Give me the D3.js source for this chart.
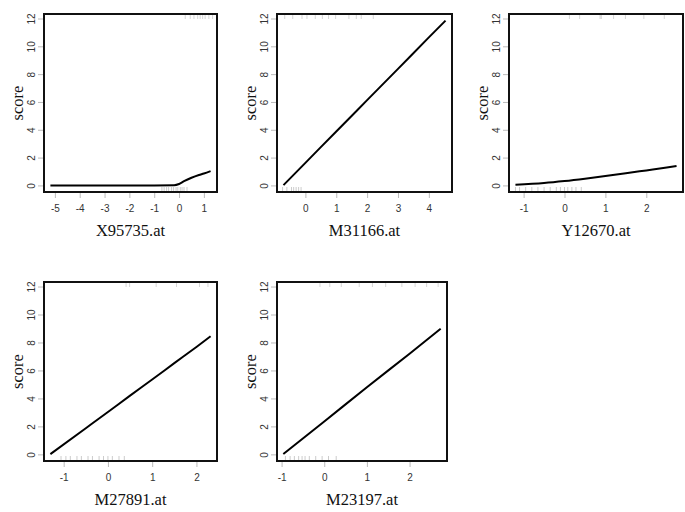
<!DOCTYPE html>
<html>
<head>
<meta charset="utf-8">
<script src="https://cdn.jsdelivr.net/npm/d3@7"></script>
<style>
  body { margin: 0; background: #fff; }
  .tick text { font-family: "Liberation Sans", Arial, sans-serif; font-size: 10px; fill: #333; }
  .axis-title { font-family: "Liberation Serif", "Times New Roman", serif; font-size: 16.5px; fill: #111; }
</style>
</head>
<body>
<div id="chart"></div>
<script>
/* DATA */
const panelNames = ["X95735.at", "M31166.at", "Y12670.at", "M27891.at", "M23197.at"];

// smooth term curves (x, score)
const curveX1 = [-5.18, -4, -3, -2, -1, -0.2, 0, 0.2, 0.5, 0.8, 1.0, 1.27];
const curveY1 = [0, 0, 0, 0, 0, 0.01, 0.1, 0.3, 0.55, 0.75, 0.86, 1.03];
const curveX2 = [-0.71, 0, 1, 2, 3, 4, 4.54];
const curveY2 = [0.02, 1.62, 3.88, 6.13, 8.38, 10.64, 11.85];
const curveX3 = [-1.2, -0.5, 0, 0.5, 1, 1.5, 2, 2.5, 2.74];
const curveY3 = [0.05, 0.17, 0.31, 0.48, 0.67, 0.87, 1.08, 1.29, 1.4];
const curveX4 = [-1.3, -0.5, 0, 0.5, 1, 1.5, 2, 2.32];
const curveY4 = [0.02, 1.87, 3.03, 4.2, 5.35, 6.52, 7.68, 8.44];
const curveX5 = [-0.96, 0, 1, 2, 2.73];
const curveY5 = [0.02, 2.35, 4.8, 7.2, 8.98];

// rug marks
const rugBottom1 = [-0.69, -0.6, -0.5, -0.42, -0.3, -0.22, -0.12, -0.05, 0.05, 0.12, 0.2, 0.32];
const rugTop1 = [0.25, 0.45, 0.6, 0.75, 0.85, 0.95, 1.05, 1.2, 1.35];
const rugBottom2 = [-0.74, -0.6, -0.45, -0.38, -0.3, -0.22, -0.14];
const rugTop2 = [-0.67, -0.41, -0.11, 0.05, 0.32, 0.55, 0.75, 0.98, 1.41, 1.65, 1.81, 2.2];
const rugBottom3 = [-1.2, -1.1, -0.95, -0.8, -0.65, -0.5, -0.35, -0.2, -0.1, 0, 0.08, 0.18, 0.28, 0.41];
const rugTop3 = [0.12, 0.37, 0.87, 0.9, 1.2, 1.49, 1.94, 2.44];
const rugBottom4 = [-1.06, -0.95, -0.85, -0.7, -0.6, -0.45, -0.35, -0.2, -0.1, 0, 0.1, 0.25, 0.37];
const rugTop4 = [0.41, 0.49, 1.09, 1.55, 2.07, 2.26];
const rugBottom5 = [-0.91, -0.8, -0.7, -0.6, -0.52, -0.45, -0.35, -0.2, -0.05, 0.1, 0.28];
const rugTop5 = [-0.1, 0.13, 0.4, 0.82, 1.13, 1.44, 1.82, 2.13, 2.4, 2.67];

// tick labels
const xTicks1 = [-5, -4, -3, -2, -1, 0, 1];
const xTicks2 = [0, 1, 2, 3, 4];
const xTicks3 = [-1, 0, 1, 2];
const xTicks4 = [-1, 0, 1, 2];
const xTicks5 = [-1, 0, 1, 2];
const yTicks = [0, 2, 4, 6, 8, 10, 12];

/* LAYOUT */
const width = 685, height = 512;
const boxes = [
  { left: 44, right: 217, top: 14, bottom: 192 },
  { left: 277, right: 452, top: 14, bottom: 192 },
  { left: 509, right: 683, top: 14, bottom: 192 },
  { left: 44, right: 217, top: 282, bottom: 461 },
  { left: 277, right: 447, top: 282, bottom: 461 }
];

const panels = [
  { xs: curveX1, ys: curveY1, rb: rugBottom1, rt: rugTop1, ticks: xTicks1 },
  { xs: curveX2, ys: curveY2, rb: rugBottom2, rt: rugTop2, ticks: xTicks2 },
  { xs: curveX3, ys: curveY3, rb: rugBottom3, rt: rugTop3, ticks: xTicks3 },
  { xs: curveX4, ys: curveY4, rb: rugBottom4, rt: rugTop4, ticks: xTicks4 },
  { xs: curveX5, ys: curveY5, rb: rugBottom5, rt: rugTop5, ticks: xTicks5 }
];

// R-style 4% range extension
function extend(ext) {
  const pad = (ext[1] - ext[0]) * 0.04;
  return [ext[0] - pad, ext[1] + pad];
}

// shared y limits over all curves
const yDomain = extend([
  d3.min(panels, p => d3.min(p.ys)),
  d3.max(panels, p => d3.max(p.ys))
]);

const svg = d3.select("#chart")
  .append("svg")
  .attr("width", width)
  .attr("height", height);

panels.forEach((p, i) => {
  const b = boxes[i];
  const g = svg.append("g");

  const xScale = d3.scaleLinear()
    .domain(extend(d3.extent(p.xs)))
    .range([b.left, b.right]);

  const yScale = d3.scaleLinear()
    .domain(yDomain)
    .range([b.bottom, b.top]);

  // x axis (plain hyphen minus, like R)
  const xAxis = g.append("g")
    .attr("transform", `translate(0,${b.bottom})`)
    .call(d3.axisBottom(xScale).tickValues(p.ticks).tickFormat(d => String(d)).tickSize(6).tickSizeOuter(0));
  xAxis.select(".domain").remove();
  xAxis.selectAll(".tick line").attr("stroke", "#bbb");
  xAxis.selectAll(".tick text").attr("y", 20).attr("dy", 0);

  // y axis, labels rotated like R's default
  const yAxis = g.append("g")
    .attr("transform", `translate(${b.left},0)`)
    .call(d3.axisLeft(yScale).tickValues(yTicks).tickFormat(d => String(d)).tickSize(6).tickSizeOuter(0));
  yAxis.select(".domain").remove();
  yAxis.selectAll(".tick line").attr("stroke", "#bbb");
  yAxis.selectAll(".tick text")
    .attr("transform", "rotate(-90)")
    .attr("x", 0)
    .attr("y", -9)
    .attr("dy", 0)
    .attr("text-anchor", "middle");

  // rugs
  g.append("g").selectAll("line.rugb")
    .data(p.rb)
    .join("line")
    .attr("x1", d => xScale(d)).attr("x2", d => xScale(d))
    .attr("y1", b.bottom).attr("y2", b.bottom - 5)
    .attr("stroke", "#aaa").attr("stroke-width", 0.6);

  g.append("g").selectAll("line.rugt")
    .data(p.rt)
    .join("line")
    .attr("x1", d => xScale(d)).attr("x2", d => xScale(d))
    .attr("y1", b.top).attr("y2", b.top + 5)
    .attr("stroke", "#bbb").attr("stroke-width", 0.6);

  // curve
  const line = d3.line()
    .x(d => xScale(d[0]))
    .y(d => yScale(d[1]))
    .curve(d3.curveMonotoneX);

  g.append("path")
    .datum(d3.zip(p.xs, p.ys))
    .attr("d", line)
    .attr("fill", "none")
    .attr("stroke", "#000")
    .attr("stroke-width", 2);

  // box
  g.append("rect")
    .attr("x", b.left).attr("y", b.top)
    .attr("width", b.right - b.left).attr("height", b.bottom - b.top)
    .attr("fill", "none")
    .attr("stroke", "#111")
    .attr("stroke-width", 2);

  // titles
  g.append("text")
    .attr("class", "axis-title")
    .attr("x", (b.left + b.right) / 2)
    .attr("y", b.bottom + 44)
    .attr("text-anchor", "middle")
    .text(panelNames[i]);

  g.append("text")
    .attr("class", "axis-title")
    .attr("transform", `translate(${b.left - 21},${(b.top + b.bottom) / 2}) rotate(-90)`)
    .attr("text-anchor", "middle")
    .text("score");
});
</script>
</body>
</html>
